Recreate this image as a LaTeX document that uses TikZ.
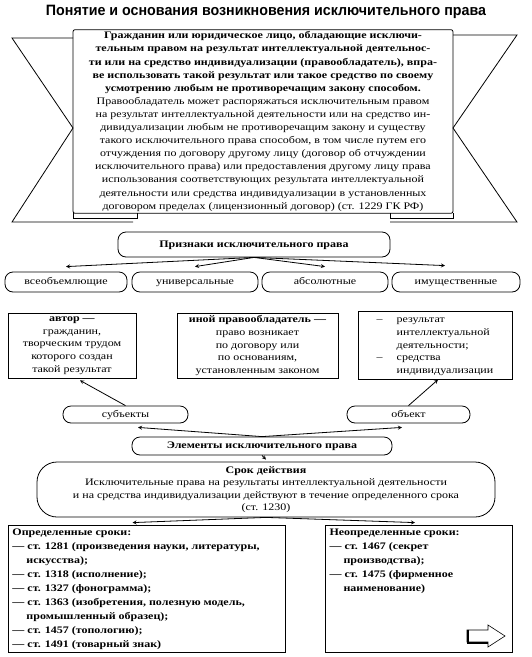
\documentclass[tikz,border=0pt]{standalone}
\usepackage{fontspec}
\setmainfont{Liberation Serif}[FakeStretch=1.2]
\newfontfamily\titlefont{Liberation Sans}[FakeStretch=0.95]
\usepackage{tikz}
\usetikzlibrary{arrows, positioning}

\begin{document}
\begin{tikzpicture}[
    x=1pt, y=-1pt,
    thick,
    title node/.style={font=\titlefont\bfseries\fontsize{15}{17}\selectfont},
    banner node/.style={rectangle,draw,rounded corners=2pt,minimum width=380pt,minimum height=183pt,align=center,inner sep=2pt,font=\fontsize{10}{13.1}\selectfont},
    round node/.style={rectangle,rounded corners=8pt,draw,align=center,inner sep=1pt,text height=7pt,text depth=2pt,font=\fontsize{10}{12}\selectfont},
    box node/.style={rectangle,draw,align=center,inner sep=2pt,font=\fontsize{10}{12.7}\selectfont},
    arrow/.style={->,>=stealth,thick}
]
\useasboundingbox (0,0) rectangle (532,657);

\node[title node] (title) at (266,12) {Понятие и основания возникновения исключительного права};

% banner with the definition
\node[banner node] (banner) at (263,121.5) {%
\textbf{Гражданин или юридическое лицо, обладающие исключи-}\\
\textbf{тельным правом на результат интеллектуальной деятельнос-}\\
\textbf{ти или на средство индивидуализации (правообладатель), впра-}\\
\textbf{ве использовать такой результат или такое средство по своему}\\
\textbf{усмотрению любым не противоречащим закону способом.}\\
Правообладатель может распоряжаться исключительным правом\\
на результат интеллектуальной деятельности или на средство ин-\\
дивидуализации любым не противоречащим закону и существу\\
такого исключительного права способом, в том числе путем его\\
отчуждения по договору другому лицу (договор об отчуждении\\
исключительного права) или предоставления другому лицу права\\
использования соответствующих результата интеллектуальной\\
деятельности или средства индивидуализации в установленных\\
договором пределах (лицензионный договор) (ст. 1229 ГК РФ)};
\draw (73,38) -- (12,38) -- (73,128) -- (12,222) -- (133,222);
\draw (453,35) -- (517,35) -- (453,128) -- (517,222) -- (390,222);
\draw (73,213) -- (73,218) -- (137,218) -- (137,213);
\draw (453,213) -- (453,218) -- (390,218) -- (390,213);

% features
\node[round node,minimum width=272pt,minimum height=25pt,font=\fontsize{10}{12}\selectfont\bfseries] (signs) at (254,244.5) {Признаки исключительного права};
\node[round node,minimum width=122pt,minimum height=20pt] (sign1) at (66,282) {всеобъемлющие};
\node[round node,minimum width=126pt,minimum height=20pt] (sign2) at (195,282) {универсальные};
\node[round node,minimum width=126pt,minimum height=20pt] (sign3) at (325,282) {абсолютные};
\node[round node,minimum width=128pt,minimum height=20pt] (sign4) at (456,282) {имущественные};

\draw[arrow] (signs.south) -- ([yshift=5pt]sign1.north);
\draw[arrow] (signs.south) -- ([yshift=5pt]sign2.north);
\draw[arrow] (signs.south) -- ([yshift=5pt]sign3.north);
\draw[arrow] (signs.south) -- ([xshift=-11pt,yshift=6pt]sign4.north);

% elements
\node[box node,minimum width=128pt,minimum height=65pt] (author) at (72,345.5) {\textbf{автор —}\\гражданин,\\творческим трудом\\которого создан\\такой результат};
\node[box node,minimum width=161pt,minimum height=65pt] (holder) at (257.5,345.5) {\textbf{иной правообладатель —}\\право возникает\\по договору или\\по основаниям,\\установленным законом};
\node[box node,minimum width=154pt,minimum height=65pt] (object) at (435,345.5) {%
\begin{tabular}{@{}l@{\hspace{14pt}}l@{}}
–&результат\\
&интеллектуальной\\
&деятельности;\\
–&средства\\
&индивидуализации
\end{tabular}};

\node[round node,minimum width=125pt,minimum height=17pt] (subj) at (125.5,414.5) {субъекты};
\node[round node,minimum width=123pt,minimum height=17pt] (obj) at (408.5,414.5) {объект};
\draw[arrow] (subj.north) -- ([xshift=8pt,yshift=-2pt]author.south);
\draw[arrow] (obj.north) -- ([xshift=3pt]object.south);

\node[round node,minimum width=260pt,minimum height=18pt,font=\fontsize{10}{12}\selectfont\bfseries] (elem) at (262,446) {Элементы исключительного права};
\draw[arrow] (elem.north) -- ([xshift=12.5pt,yshift=-4pt]subj.south);
\draw[arrow] (elem.north) -- ([xshift=-6.5pt,yshift=-4pt]obj.south);

% term
\node[round node,rounded corners=20pt,minimum width=458pt,minimum height=55pt,text height=,text depth=,font=\fontsize{10}{12.5}\selectfont] (term) at (266,489.5) {\textbf{Срок действия}\\Исключительные права на результаты интеллектуальной деятельности\\и на средства индивидуализации действуют в течение определенного срока\\(ст. 1230)};
\draw[arrow] (elem.south) -- ([yshift=2pt]term.north);

\node[box node,minimum width=277pt,minimum height=127pt,align=left,font=\fontsize{10}{14}\selectfont\bfseries] (fixed) at (146.5,588.5) {%
\parbox[c][119pt][t]{268pt}{Определенные сроки:\\
— ст. 1281 (произведения науки, литературы,\\
\hspace*{1.4em}искусства);\\
— ст. 1318 (исполнение);\\
— ст. 1327 (фонограмма);\\
— ст. 1363 (изобретения, полезную модель,\\
\hspace*{1.4em}промышленный образец);\\
— ст. 1457 (топологию);\\
— ст. 1491 (товарный знак)}};
\node[box node,minimum width=187pt,minimum height=127pt,align=left,font=\fontsize{10}{14}\selectfont\bfseries] (open) at (418.5,588.5) {%
\parbox[c][119pt][t]{178pt}{Неопределенные сроки:\\
— ст. 1467 (секрет\\
\hspace*{1.4em}производства);\\
— ст. 1475 (фирменное\\
\hspace*{1.4em}наименование)}};
\draw[arrow] (term.south) -- ([xshift=-14pt,yshift=2pt]fixed.north);
\draw[arrow] (term.south) -- ([xshift=-3.5pt,yshift=2pt]open.north);

% next page arrow
\draw[semithick] (467,630) -- (488,630) -- (488,625) -- (505,636) -- (488,647) -- (488,642) -- (467,642) -- cycle;
\draw[line width=2pt] (468,629.5) -- (468,643) -- (488,643);

\end{tikzpicture}
\end{document}
